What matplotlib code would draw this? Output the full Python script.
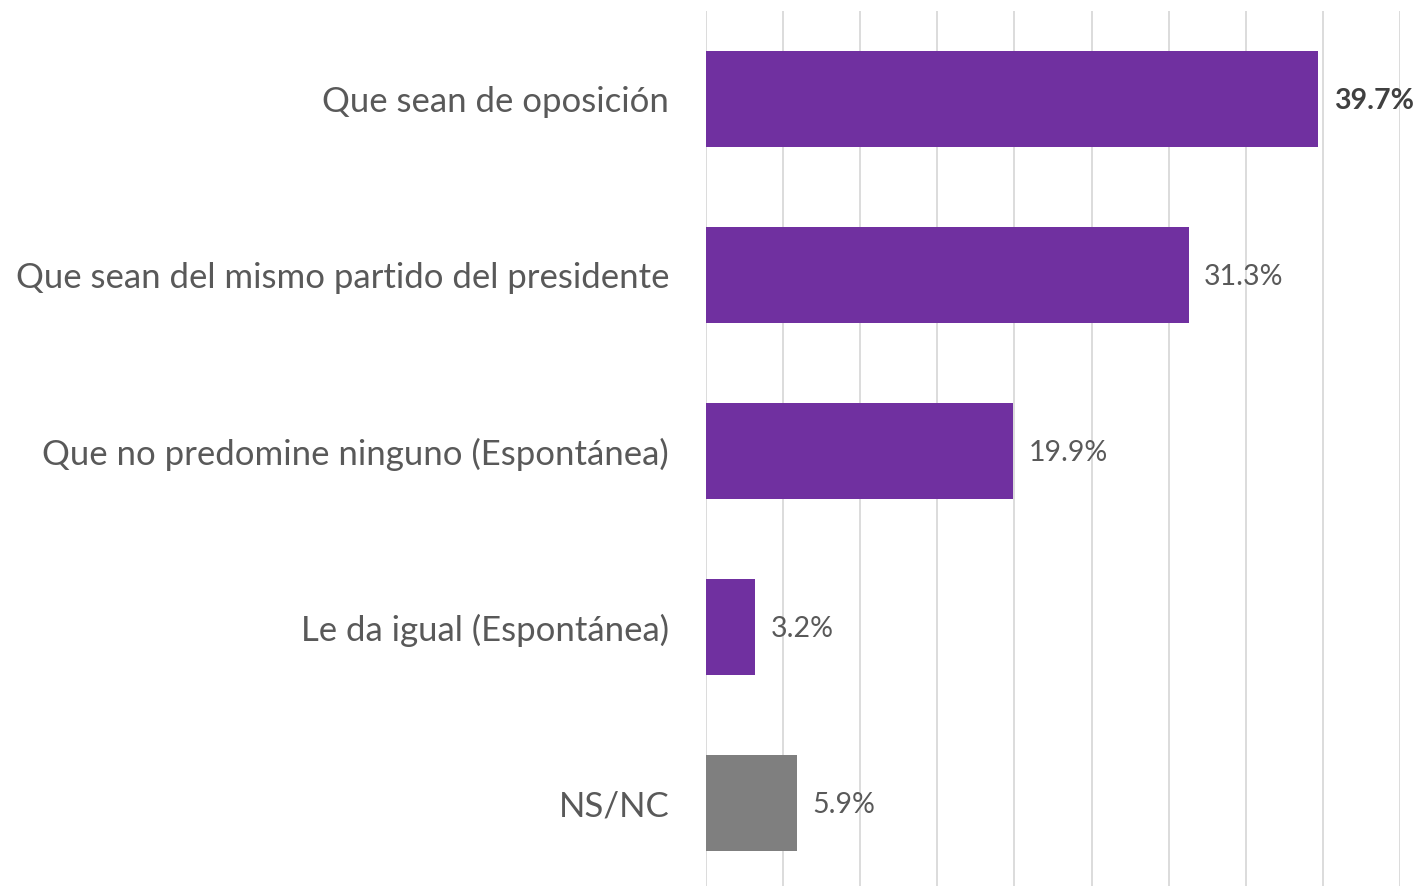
import matplotlib
matplotlib.use("Agg")
import matplotlib.pyplot as plt

categories = ["Que sean de oposición",
              "Que sean del mismo partido del presidente",
              "Que no predomine ninguno (Espontánea)",
              "Le da igual (Espontánea)",
              "NS/NC"]
values = [39.7, 31.3, 19.9, 3.2, 5.9]
colors = ["#7030A0", "#7030A0", "#7030A0", "#7030A0", "#7F7F7F"]
value_labels = ["39.7%", "31.3%", "19.9%", "3.2%", "5.9%"]
bold = [True, False, False, False, False]

plt.rcParams['font.family'] = ['Lato', 'DejaVu Sans']

fig = plt.figure(figsize=(14.21, 8.86), dpi=100)
W, H = 1421, 886
ax = fig.add_axes([706 / W, 0 / H, (1400 - 706) / W, (875) / H])

ypos = list(range(len(categories)))
ax.barh(ypos, values, height=0.54, color=colors, zorder=3)
ax.set_xlim(0, 45)
ax.set_ylim(4 + 83 / 176, -0.5)
ax.set_xticks([i * 5 for i in range(10)])
ax.xaxis.grid(True, color="#D9D9D9", linewidth=1.3, zorder=0)
ax.tick_params(axis="x", length=0, labelbottom=False)
ax.tick_params(axis="y", length=0, pad=26.5)
ax.set_yticks(ypos)
ax.set_yticklabels(categories, fontsize=25, color="#595959")
for s in ax.spines.values():
    s.set_visible(False)

for y, v, lab, b in zip(ypos, values, value_labels, bold):
    ax.text(v + 1.0, y + 0.01, lab, va="center", ha="left", fontsize=20.5,
            color="#404040" if b else "#595959",
            fontweight="bold" if b else "normal", zorder=4)

fig.savefig("out.png", dpi=100)
